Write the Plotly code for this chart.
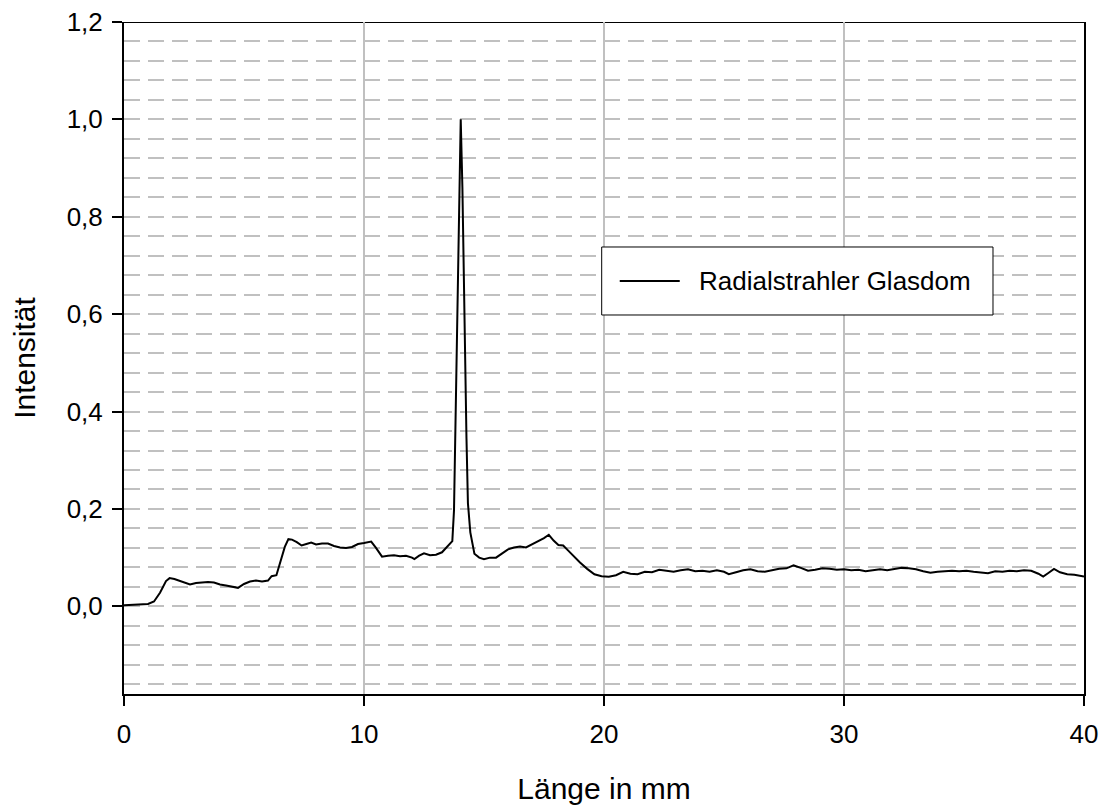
import plotly.graph_objects as go

series_name = "Radialstrahler Glasdom"
x_label = "Länge in mm"
y_label = "Intensität"

x_mm = [0, 0.5, 1.0, 1.25, 1.5, 1.75, 1.9, 2.1, 2.3, 2.5, 2.75, 3.0, 3.25, 3.5, 3.75,
        4.0, 4.25, 4.5, 4.75, 5.0, 5.25, 5.5, 5.75, 6.0, 6.15, 6.35, 6.55, 6.7, 6.85,
        7.0, 7.2, 7.4, 7.6, 7.8, 8.0, 8.25, 8.5, 8.75, 9.0, 9.25, 9.5, 9.75, 10.0,
        10.3, 10.5, 10.75, 11.0, 11.25, 11.5, 11.75, 12.0, 12.1, 12.3, 12.5, 12.75,
        13.0, 13.25, 13.5, 13.68, 13.75, 13.82, 13.9, 13.98, 14.03, 14.1, 14.18,
        14.27, 14.33, 14.43, 14.6, 14.8, 15.0, 15.25, 15.5, 15.75, 16.0, 16.25, 16.5,
        16.75, 17.0, 17.25, 17.5, 17.7, 17.9, 18.1, 18.3, 18.5, 18.75, 19.0, 19.3,
        19.6, 19.9, 20.2, 20.5, 20.8, 21.1, 21.4, 21.7, 22.0, 22.3, 22.6, 22.9, 23.2,
        23.5, 23.8, 24.1, 24.4, 24.7, 25.0, 25.2, 25.5, 25.8, 26.1, 26.4, 26.7, 27.0,
        27.3, 27.6, 27.9, 28.2, 28.5, 28.8, 29.1, 29.4, 29.7, 30.0, 30.3, 30.6, 30.9,
        31.2, 31.5, 31.8, 32.1, 32.4, 32.7, 33.0, 33.3, 33.6, 33.9, 34.2, 34.5, 34.8,
        35.1, 35.4, 35.7, 36.0, 36.3, 36.6, 36.9, 37.2, 37.5, 37.8, 38.1, 38.3, 38.5,
        38.75, 39.0, 39.3, 39.6, 39.8, 40.0]

intensity = [0.002, 0.004, 0.005, 0.010, 0.028, 0.052, 0.058, 0.056, 0.053, 0.050, 0.045,
             0.048, 0.049, 0.050, 0.049, 0.045, 0.043, 0.041, 0.038, 0.046, 0.051, 0.053,
             0.051, 0.053, 0.062, 0.064, 0.098, 0.122, 0.138, 0.137, 0.132, 0.125, 0.128,
             0.131, 0.127, 0.129, 0.129, 0.124, 0.121, 0.120, 0.122, 0.128, 0.130, 0.133,
             0.120, 0.102, 0.104, 0.105, 0.103, 0.104, 0.100, 0.097, 0.104, 0.109, 0.105,
             0.106, 0.111, 0.124, 0.134, 0.197, 0.417, 0.639, 0.896, 1.000, 0.860, 0.565,
             0.345, 0.212, 0.152, 0.108, 0.100, 0.097, 0.100, 0.100, 0.108, 0.117, 0.121,
             0.123, 0.121, 0.127, 0.133, 0.140, 0.147, 0.135, 0.126, 0.125, 0.115, 0.102,
             0.090, 0.077, 0.066, 0.062, 0.061, 0.064, 0.071, 0.067, 0.066, 0.071, 0.070,
             0.075, 0.073, 0.071, 0.074, 0.076, 0.072, 0.073, 0.071, 0.074, 0.071, 0.066,
             0.070, 0.074, 0.076, 0.072, 0.071, 0.074, 0.077, 0.078, 0.084, 0.079, 0.073,
             0.075, 0.078, 0.077, 0.075, 0.076, 0.074, 0.075, 0.072, 0.074, 0.076, 0.074,
             0.077, 0.079, 0.078, 0.076, 0.072, 0.069, 0.071, 0.072, 0.073, 0.072, 0.073,
             0.071, 0.070, 0.068, 0.072, 0.071, 0.073, 0.072, 0.074, 0.073, 0.067, 0.061,
             0.068, 0.077, 0.070, 0.066, 0.065, 0.063, 0.061]

x_ticks = [0, 10, 20, 30, 40]
y_ticks = [0.0, 0.2, 0.4, 0.6, 0.8, 1.0, 1.2]
x_range = [0, 40]
y_range = [-0.18, 1.2]

FONT = "Liberation Sans, Arial, Helvetica, sans-serif"
GRID = "#c0c0c0"

fig = go.Figure()
fig.add_trace(go.Scatter(x=x_mm, y=intensity, mode="lines", name=series_name,
                         line=dict(color="black", width=2), showlegend=False))

# top frame line, drawn beneath the dashed gridline
fig.add_shape(type="line", xref="paper", yref="y", x0=0, x1=1, y0=1.2, y1=1.2,
              line=dict(color="black", width=2), layer="below")

# legend box (paper coordinates of the plot area)
LX0, LX1, LY0, LY1 = 0.4976, 0.9052, 0.5640, 0.6652
fig.add_shape(type="rect", xref="paper", yref="paper", x0=LX0, x1=LX1, y0=LY0, y1=LY1,
              line=dict(color="black", width=1), fillcolor="white", layer="above")
fig.add_shape(type="line", xref="paper", yref="paper", x0=0.5164, x1=0.5789,
              y0=(LY0 + LY1) / 2, y1=(LY0 + LY1) / 2,
              line=dict(color="black", width=2), layer="above")
fig.add_annotation(xref="paper", yref="paper", x=0.5966, y=(LY0 + LY1) / 2,
                   xanchor="left", yanchor="middle", text=series_name,
                   showarrow=False, font=dict(size=26, color="black"))

fig.update_layout(
    width=1102, height=805,
    margin=dict(l=124, r=18, t=22, b=111, autoexpand=False),
    paper_bgcolor="white", plot_bgcolor="white",
    separators=",.",
    font=dict(family=FONT, size=26, color="black"),
    showlegend=False,
    xaxis=dict(range=x_range, tickvals=x_ticks, ticks="outside", ticklen=10,
               tickwidth=2, tickcolor="black", showline=True, linecolor="black",
               linewidth=2, showgrid=True, gridcolor=GRID, gridwidth=1.5,
               zeroline=False, automargin=False, ticklabelstandoff=6,
               title=dict(text=x_label, font=dict(size=30), standoff=36)),
    yaxis=dict(range=y_range, tickvals=y_ticks, tickformat=".1f", ticks="outside",
               ticklen=10, tickwidth=2, tickcolor="black", showline=True,
               linecolor="black", linewidth=2, mirror=True, showgrid=True,
               gridcolor=GRID, gridwidth=2, griddash="16px,8px", zeroline=False,
               automargin=False, ticklabelstandoff=4,
               minor=dict(dtick=0.04, tick0=0, showgrid=True, gridcolor=GRID,
                          gridwidth=2, griddash="16px,8px", ticks=""),
               title=dict(text=y_label, font=dict(size=30), standoff=22)),
)

fig.write_html("out.html")
